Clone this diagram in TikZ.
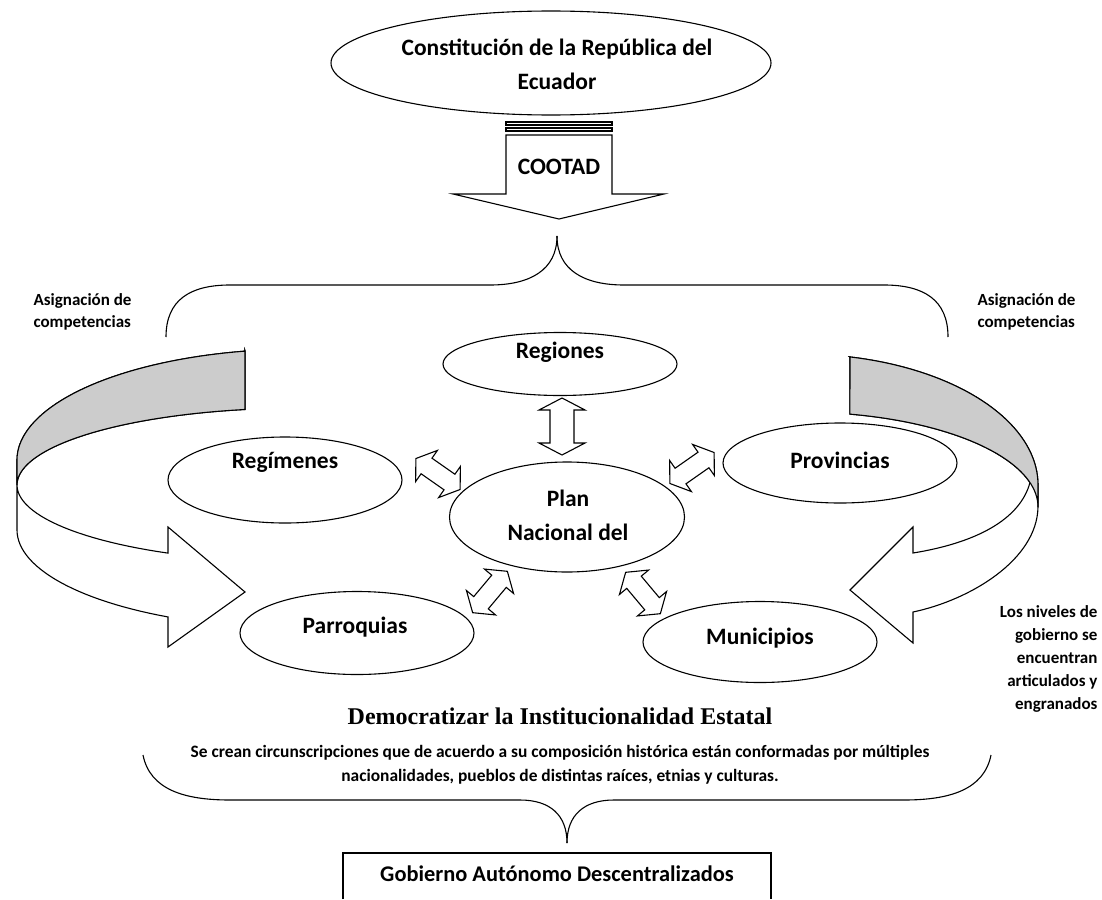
\documentclass[tikz,border=0pt]{standalone}
\usepackage{fontspec}
\setmainfont{Carlito}
\newfontfamily\timesf{Liberation Serif}
\usetikzlibrary{shapes.geometric}
\tikzset{
  ell/.style={draw, ellipse, inner sep=0pt, fill=white},
  lbl/.style={font=\bfseries\fontsize{23.5}{34}\selectfont, inner sep=0pt, align=center},
  side/.style={font=\bfseries\fontsize{17}{22}\selectfont, inner sep=0pt},
  body/.style={font=\bfseries\fontsize{17.4}{24}\selectfont, inner sep=0pt, align=center},
  dbl/.pic={\draw[fill=white] (-27,0) -- (-14,-19) -- (-14,-9.5) -- (14,-9.5) -- (14,-19) -- (27,0) -- (14,19) -- (14,9.5) -- (-14,9.5) -- (-14,19) -- cycle;},
  bigdbl/.pic={\draw[fill=white] (-28.5,0) -- (-16.5,-23) -- (-16.5,-12) -- (16.5,-12) -- (16.5,-23) -- (28.5,0) -- (16.5,23) -- (16.5,12) -- (-16.5,12) -- (-16.5,23) -- cycle;}
}
\begin{document}
\begin{tikzpicture}[x=1pt,y=-1pt,line width=1.1pt,line join=miter]
\useasboundingbox (0,0) rectangle (1102,899);

% top ellipse
\node[ell, minimum width=440pt, minimum height=104pt] (const) at (551,63) {};
\node[lbl] (constt) at (557,64) {Constitución de la República del\\Ecuador};

% COOTAD striped arrow
\draw (506,122) rectangle (612,125);
\draw (506,128) rectangle (612,131);
\draw (506,135) -- (506,194) -- (453,194) -- (559,219) -- (664,194) -- (612,194) -- (612,135) -- cycle;
\node[lbl] (cootad) at (559,167) {COOTAD};

% top brace
\draw (166,337) .. controls (166,300) and (190,285) .. (230,285) -- (490,285) .. controls (530,285) and (557,270) .. (557,236);
\draw (948,337) .. controls (948,300) and (924,285) .. (884,285) -- (624,285) .. controls (584,285) and (557,270) .. (557,236);

% side texts
\node[side, anchor=west, align=left] (asigl) at (33,312) {Asignación de\\competencias};
\node[side, anchor=west, align=left] (asigr) at (977,312) {Asignación de\\competencias};
\node[side, anchor=east, align=right, font=\bfseries\fontsize{17}{23}\selectfont] (niveles) at (1098,659) {Los niveles de\\gobierno se\\encuentran\\articulados y\\engranados};

% left curved arrow
\filldraw[fill=white] (245,351)
  -- plot[domain=101.2:180, samples=40] ({300+283*cos(\x)},{460-111*sin(\x)})
  -- (17,530)
  -- plot[domain=180:242.2, samples=30] ({300+283*cos(\x)},{530-98.3*sin(\x)})
  -- (168,647) -- (245,592) -- (168,527) -- (168,553)
  -- plot[domain=242.2:101.2, samples=60] ({300+283*cos(\x)},{485-77*sin(\x)})
  -- cycle;
\filldraw[fill=gray!40] (245,351)
  -- plot[domain=101.2:180, samples=40] ({300+283*cos(\x)},{460-111*sin(\x)})
  -- (17,485)
  -- plot[domain=180:101.2, samples=40] ({300+283*cos(\x)},{485-77*sin(\x)})
  -- cycle;

% right curved arrow
\filldraw[fill=white] (850,357)
  -- plot[domain=77.9:0, samples=40] ({800+238*cos(\x)},{485-131*sin(\x)})
  -- (1038,507) .. controls (1037,560) and (970,600) .. (913,612)
  -- (913,643) -- (850,590) -- (913,527) -- (913,553)
  .. controls (975,543) and (1020,520) .. (1030,482.4)
  -- plot[domain=15:77.9, samples=30] ({800+238*cos(\x)},{507-95*sin(\x)})
  -- cycle;
\filldraw[fill=gray!40] (850,357)
  -- plot[domain=77.9:0, samples=40] ({800+238*cos(\x)},{485-131*sin(\x)})
  -- (1038,507)
  -- plot[domain=0:77.9, samples=40] ({800+238*cos(\x)},{507-95*sin(\x)})
  -- cycle;

% ellipses
\node[ell, minimum width=234pt, minimum height=63pt] (reg) at (560,364) {};
\node[lbl] (regt) at (560,352) {Regiones};
\node[ell, minimum width=234pt, minimum height=86pt] (regim) at (285,480) {};
\node[lbl] (regimt) at (285,462) {Regímenes};
\node[ell, minimum width=234pt, minimum height=80pt] (prov) at (840,463) {};
\node[lbl] (provt) at (840,460) {Provincias};
\node[ell, minimum width=235pt, minimum height=110pt] (plan) at (567,517) {};
\node[lbl] (plant) at (568,515) {Plan\\Nacional del};
\node[ell, minimum width=234pt, minimum height=83pt] (parr) at (357,633) {};
\node[lbl] (parrt) at (355,627) {Parroquias};
\node[ell, minimum width=234pt, minimum height=81pt] (muni) at (760,642) {};
\node[lbl] (munit) at (760,638) {Municipios};

% double arrows
\pic[rotate=90] at (562,426.5) {bigdbl};
\pic[rotate=-35] at (438,474) {dbl};
\pic[rotate=35] at (692,468) {dbl};
\pic[rotate=50] at (490,592) {dbl};
\pic[rotate=-50] at (643,593) {dbl};

% bottom texts
\node[inner sep=0pt, font=\timesf\bfseries\fontsize{24}{28}\selectfont] (demo) at (560,716) {Democratizar la Institucionalidad Estatal};
\node[body] (secrean) at (560,765) {Se crean circunscripciones que de acuerdo a su composición histórica están conformadas por múltiples\\nacionalidades, pueblos de distintas raíces, etnias y culturas.};

% bottom brace
\draw (143,755) .. controls (150,790) and (185,800) .. (230,800) -- (520,800) .. controls (550,800) and (567,815) .. (567,843);
\draw (991,755) .. controls (984,790) and (949,800) .. (904,800) -- (614,800) .. controls (584,800) and (567,815) .. (567,843);

% bottom box (open at bottom edge)
\node[inner sep=0pt, font=\bfseries\fontsize{22.4}{26}\selectfont] (gob) at (557,874) {Gobierno Autónomo Descentralizados};
\coordinate (gbl) at (343,899);
\coordinate (gtl) at (343,853);
\coordinate (gtr) at (771,853);
\coordinate (gbr) at (771,899);
\draw (gbl) -- (gtl) -- (gtr) -- (gbr);
\end{tikzpicture}
\end{document}
